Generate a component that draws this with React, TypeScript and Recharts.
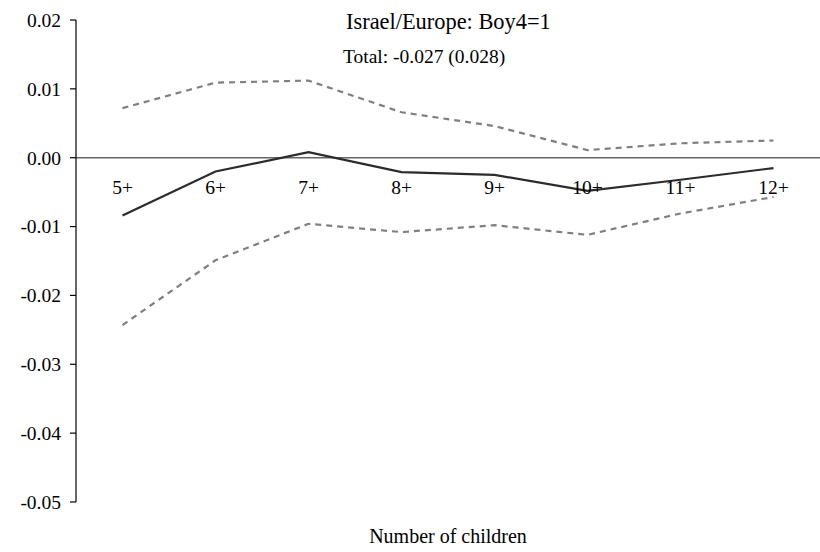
import React from "react";
import {
  LineChart, Line, XAxis, YAxis, ReferenceLine,
} from "recharts";

const categories = ["5+", "6+", "7+", "8+", "9+", "10+", "11+", "12+"];
const estimate = [-0.0084, -0.002, 0.0008, -0.0021, -0.0025, -0.0048, -0.0032, -0.0015];
const upper = [0.0072, 0.0109, 0.0112, 0.0066, 0.0046, 0.0011, 0.0021, 0.0025];
const lower = [-0.0243, -0.0149, -0.0096, -0.0108, -0.0098, -0.0112, -0.0081, -0.0057];
const yTicks = [-0.05, -0.04, -0.03, -0.02, -0.01, 0, 0.01, 0.02];

const data = categories.map((c, i) => ({
  name: c,
  est: estimate[i],
  hi: upper[i],
  lo: lower[i],
}));

const FONT = '"Liberation Serif", "DejaVu Serif", serif';

interface TickProps {
  x?: number;
  y?: number;
  payload?: { value: string };
}

// category labels sit just under the zero line, not at the bottom of the plot
function CategoryTick({ x, y, payload }: TickProps) {
  if (x == null || y == null || !payload) return null;
  return (
    <text
      x={x}
      y={y - 308}
      textAnchor="middle"
      fill="#000"
      fontSize={19.5}
      style={{ fontFamily: FONT }}
    >
      {payload.value}
    </text>
  );
}

export default function App() {
  return (
    <div
      style={{
        position: "absolute",
        left: 0,
        top: 0,
        width: 820,
        height: 552,
        background: "#fff",
        fontFamily: FONT,
      }}
    >
      <LineChart
        width={820}
        height={552}
        data={data}
        margin={{ top: 20, right: 0, bottom: 0, left: 0 }}
        style={{ fontFamily: FONT }}
      >
        <XAxis
          dataKey="name"
          axisLine={false}
          tickLine={false}
          tickSize={0}
          tickMargin={0}
          height={50}
          padding={{ left: 46.5, right: 46.5 }}
          tick={<CategoryTick />}
          label={{
            value: "Number of children",
            position: "insideBottom",
            offset: 9,
            fontSize: 20,
            fill: "#000",
            style: { fontFamily: FONT },
          }}
        />
        <YAxis
          width={76}
          domain={[-0.05, 0.02]}
          ticks={yTicks}
          tickFormatter={(v: number) => v.toFixed(2)}
          tickSize={6}
          tickMargin={9}
          axisLine={{ stroke: "#000", strokeWidth: 1.2 }}
          tickLine={{ stroke: "#000", strokeWidth: 1.2 }}
          tick={{ fill: "#000", fontSize: 19.5, style: { fontFamily: FONT } }}
          allowDataOverflow
        />
        <ReferenceLine y={0} stroke="#666" strokeWidth={1.6} />
        <Line
          dataKey="hi"
          stroke="#7f7f7f"
          strokeWidth={2.2}
          strokeDasharray="6 5"
          dot={false}
          isAnimationActive={false}
        />
        <Line
          dataKey="lo"
          stroke="#7f7f7f"
          strokeWidth={2.2}
          strokeDasharray="6 5"
          dot={false}
          isAnimationActive={false}
        />
        <Line
          dataKey="est"
          stroke="#2b2b2b"
          strokeWidth={2.2}
          dot={false}
          isAnimationActive={false}
        />
      </LineChart>
      <div
        style={{
          position: "absolute",
          left: 346,
          top: 11,
          fontSize: 22.4,
          lineHeight: 1,
          whiteSpace: "nowrap",
        }}
      >
        Israel/Europe: Boy4=1
      </div>
      <div
        style={{
          position: "absolute",
          left: 343,
          top: 47,
          fontSize: 19.5,
          lineHeight: 1,
          whiteSpace: "nowrap",
        }}
      >
        Total: -0.027 (0.028)
      </div>
    </div>
  );
}
